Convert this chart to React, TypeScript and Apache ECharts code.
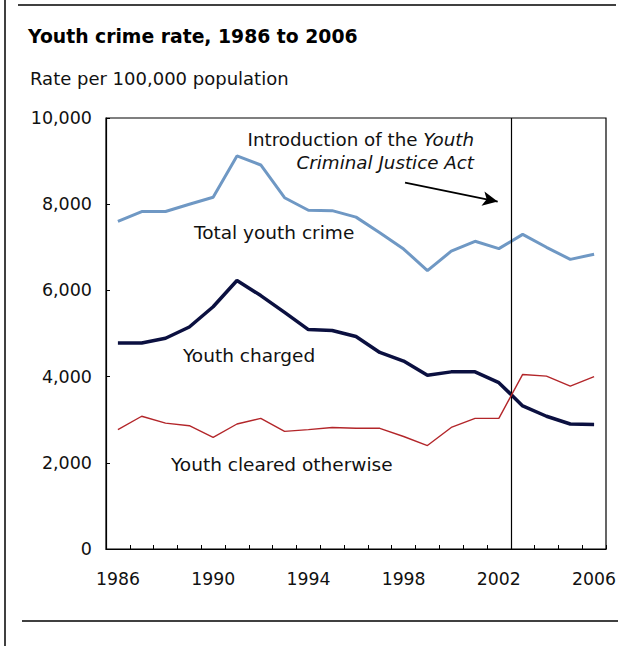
import React, { useEffect, useRef } from "react";
import * as echarts from "echarts";

const years = ["1986","1987","1988","1989","1990","1991","1992","1993","1994","1995","1996","1997","1998","1999","2000","2001","2002","2003","2004","2005","2006"];
const totalYouthCrime = [7600,7830,7830,8000,8160,9120,8910,8150,7860,7850,7700,7340,6960,6460,6910,7140,6970,7300,7000,6720,6840];
const youthCharged = [4780,4780,4890,5150,5620,6230,5880,5490,5090,5070,4930,4560,4360,4030,4110,4110,3860,3320,3080,2900,2890];
const youthClearedOtherwise = [2770,3080,2920,2860,2590,2900,3030,2730,2770,2820,2800,2800,2610,2400,2820,3030,3030,4050,4010,3780,4000];
const yTicks = [0, 2000, 4000, 6000, 8000, 10000];

const FONT = "'DejaVu Sans', 'Liberation Sans', Arial, sans-serif";

export default function App() {
  const ref = useRef<HTMLDivElement>(null);
  useEffect(() => {
    if (!ref.current) return;
    const chart = echarts.init(ref.current, null, { renderer: "svg" });
    chart.setOption({
      animation: false,
      backgroundColor: "#ffffff",
      textStyle: { fontFamily: FONT },
      grid: {
        left: 106, top: 118, right: 20, bottom: 97,
        show: true, borderColor: "#000", borderWidth: 1.2, backgroundColor: "transparent",
      },
      xAxis: [
        {
          type: "category",
          data: years,
          boundaryGap: true,
          axisLine: { lineStyle: { color: "#000", width: 1.2 } },
          axisTick: { show: true, inside: true, length: 4, interval: 0, alignWithLabel: false, lineStyle: { color: "#000" } },
          axisLabel: { interval: 3, color: "#111", fontSize: 17.3, margin: 21, fontFamily: FONT },
          splitLine: { show: false },
        },
        { type: "value", min: 0, max: 21, show: false, gridIndex: 0 },
      ],
      yAxis: {
        type: "value",
        min: yTicks[0],
        max: yTicks[yTicks.length - 1],
        interval: 2000,
        axisLine: { show: true, lineStyle: { color: "#000", width: 1.2 } },
        axisTick: { show: true, inside: true, length: 4, lineStyle: { color: "#000" } },
        axisLabel: {
          color: "#111", fontSize: 17.5, margin: 14, fontFamily: FONT,
          formatter: (v: number) => v.toLocaleString("en-US"),
        },
        splitLine: { show: false },
      },
      series: [
        {
          name: "Total youth crime", type: "line", data: totalYouthCrime,
          symbol: "none", lineStyle: { color: "#6f98c4", width: 3 }, z: 3,
        },
        {
          name: "Youth charged", type: "line", data: youthCharged,
          symbol: "none", lineStyle: { color: "#0b1040", width: 3.5 }, z: 4,
        },
        {
          name: "Youth cleared otherwise", type: "line", data: youthClearedOtherwise,
          symbol: "none", lineStyle: { color: "#b3262a", width: 1.4 }, z: 5,
        },
        {
          name: "annotation", type: "line", xAxisIndex: 1, data: [],
          symbol: "none", silent: true,
          markLine: {
            silent: true,
            label: { show: false },
            data: [
              [
                { coord: [17, 0], symbol: "none" },
                { coord: [17, 10000], symbol: "none", lineStyle: { color: "#000", width: 1.2, type: "solid" } },
              ],
              [
                { coord: [12.56, 8500], symbol: "none" },
                { coord: [16.45, 8060], symbol: "arrow", symbolSize: [11, 15], lineStyle: { color: "#000", width: 1.8, type: "solid" } },
              ],
            ],
            lineStyle: { color: "#000", width: 1.2, type: "solid" },
            symbol: ["none", "none"],
          },
        },
      ],
      graphic: [
        { type: "line", shape: { x1: 5, y1: 0, x2: 5, y2: 646 }, style: { stroke: "#000", lineWidth: 1.5 } },
        { type: "line", shape: { x1: 18, y1: 5, x2: 616, y2: 5 }, style: { stroke: "#000", lineWidth: 1.5 } },
        { type: "line", shape: { x1: 22, y1: 621, x2: 618, y2: 621 }, style: { stroke: "#000", lineWidth: 1.5 } },
        {
          type: "text", x: 28, y: 36,
          style: { text: "Youth crime rate, 1986 to 2006", fontSize: 18.8, fontWeight: "bold", fill: "#000", fontFamily: FONT, verticalAlign: "middle" },
        },
        {
          type: "text", x: 30, y: 78,
          style: { text: "Rate per 100,000 population", fontSize: 18, fill: "#111", fontFamily: FONT, verticalAlign: "middle" },
        },
        {
          type: "text", x: 474, y: 150.5,
          style: {
            text: "{n|Introduction of the }{i|Youth}\n{i|Criminal Justice Act}",
            align: "right", verticalAlign: "middle", fill: "#111", fontFamily: FONT, fontSize: 18.3, lineHeight: 23,
            rich: {
              n: { fontSize: 18.3, fontFamily: FONT, fill: "#111", lineHeight: 23 },
              i: { fontSize: 18.3, fontFamily: FONT, fontStyle: "italic", fill: "#111", lineHeight: 23 },
            },
          },
        },
        {
          type: "text", x: 194, y: 232,
          style: { text: "Total youth crime", fontSize: 18.5, fill: "#111", fontFamily: FONT, verticalAlign: "middle" },
        },
        {
          type: "text", x: 183, y: 355,
          style: { text: "Youth charged", fontSize: 18.5, fill: "#111", fontFamily: FONT, verticalAlign: "middle" },
        },
        {
          type: "text", x: 171, y: 464,
          style: { text: "Youth cleared otherwise", fontSize: 18.5, fill: "#111", fontFamily: FONT, verticalAlign: "middle" },
        },
      ],
    });
    return () => chart.dispose();
  }, []);
  return <div ref={ref} style={{ position: "absolute", left: 0, top: 0, width: 626, height: 646 }} />;
}
